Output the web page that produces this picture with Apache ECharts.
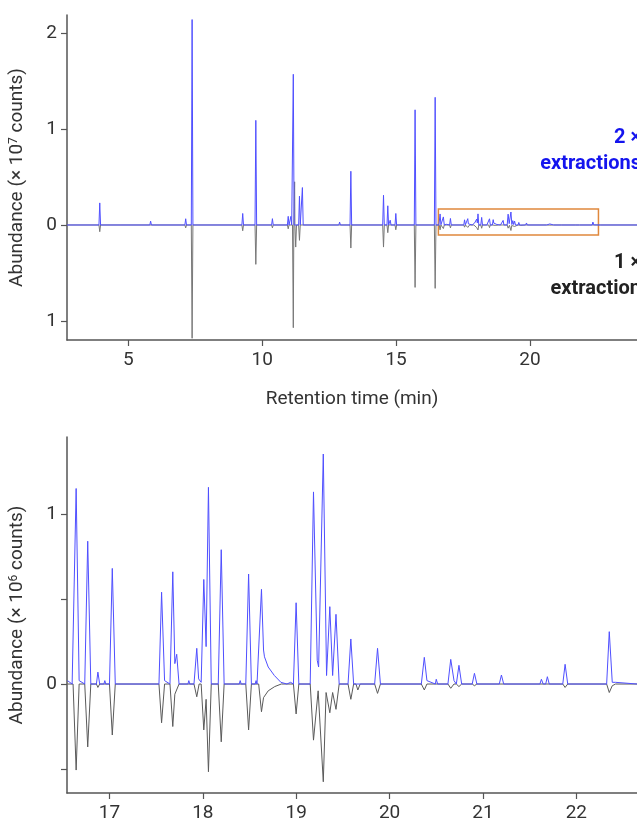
<!DOCTYPE html>
<html>
<head>
<meta charset="utf-8">
<script src="https://cdn.jsdelivr.net/npm/echarts@6/dist/echarts.min.js"></script>
<style>
html,body{margin:0;padding:0;background:#fff;}
#chart{width:637px;height:823px;}
</style>
</head>
<body>
<div id="chart"></div>
<script>
// ---------- DATA ----------
// Top panel: retention time (min), abundance (x 10^7 counts), for peaks before the inset window
const topBluePeaks = [
  [3.93,0.23],[4.75,0.02],[5.83,0.04],[7.14,0.065],[7.38,2.14],[9.27,0.12],[9.76,1.09],
  [10.38,0.066],[10.97,0.09],[11.07,0.09],[11.16,1.57],[11.39,0.30],[11.50,0.39],
  [12.89,0.03],[13.31,0.56],[14.53,0.31],[14.69,0.20],[14.78,0.05],[14.99,0.12],
  [15.71,1.20],[16.46,1.33]
];
const topGrayPeaks = [
  [3.93,-0.07],[7.14,-0.03],[7.38,-1.18],[9.27,-0.06],[9.76,-0.41],[10.38,-0.03],
  [10.97,-0.04],[11.16,-1.07],[11.21,0.45],[11.25,-0.23],[11.39,-0.16],[12.89,-0.02],
  [13.31,-0.24],[14.53,-0.23],[14.69,-0.08],[14.99,-0.05],[15.71,-0.65],[16.46,-0.66]
];
// Bottom panel (inset window): retention time (min), abundance (x 10^6 counts)
const insetBlue = [
  [16.55,0.02],[16.60,0.0],[16.61,0.01],[16.643,1.15],[16.675,0.02],[16.735,0.0],[16.767,0.84],[16.80,0.0],
  [16.86,0.0],[16.876,0.07],[16.895,0.0],[16.94,0],[16.95,0.02],[16.96,0],[17.0,0],[17.03,0.68],[17.062,0],
  [17.53,0],[17.558,0.54],[17.59,0.02],[17.648,0],[17.678,0.66],[17.70,0.12],[17.72,0.175],[17.745,0.0],
  [17.84,0],[17.85,0.02],[17.86,0],[17.905,0],[17.935,0.21],[17.955,0.03],[17.982,0.01],[18.01,0.615],
  [18.035,0.22],[18.06,1.157],[18.09,0.0],[18.165,0],[18.197,0.79],[18.228,0],[18.39,0],[18.40,0.02],
  [18.41,0],[18.46,0],[18.49,0.647],[18.52,0],[18.56,0],[18.57,0.02],[18.58,0],[18.598,0],[18.628,0.557],
  [18.65,0.2],[18.66,0.16],[18.70,0.10],[18.766,0.05],[18.836,0.01],[18.9,0],[18.94,0.01],[18.97,0],
  [18.999,0.478],[19.028,0],[19.15,0],[19.185,1.13],[19.225,0.14],[19.24,0.10],[19.29,1.353],[19.325,0.05],
  [19.36,0.455],[19.39,0.05],[19.426,0.41],[19.46,0],[19.555,0],[19.585,0.265],[19.615,0],[19.84,0],
  [19.871,0.21],[19.902,0],[20.34,0],[20.372,0.157],[20.4,0.02],[20.49,0],[20.50,0.028],[20.515,0],
  [20.625,0],[20.655,0.145],[20.69,0.02],[20.715,0],[20.743,0.11],[20.772,0],[20.885,0],[20.909,0.063],
  [20.935,0],[21.175,0],[21.198,0.053],[21.222,0],[21.61,0],[21.626,0.028],[21.645,0],[21.672,0],
  [21.69,0.043],[21.71,0],[21.855,0],[21.88,0.116],[21.908,0],[22.325,0],[22.353,0.308],[22.385,0.01],
  [22.42,0.01],[22.44,0],[22.65,0]
];
const insetGray = [
  [16.55,0],[16.61,0],[16.643,-0.506],[16.675,0],[16.735,0],[16.767,-0.37],[16.80,0],[16.86,0],
  [16.876,-0.02],[16.895,0],[17.0,0],[17.03,-0.30],[17.062,0],[17.53,0],[17.558,-0.228],[17.59,0],
  [17.648,0],[17.678,-0.25],[17.70,-0.06],[17.72,-0.05],[17.745,0],[17.905,0],[17.935,-0.075],[17.96,0],
  [17.982,0],[18.01,-0.27],[18.035,-0.09],[18.06,-0.516],[18.09,0],[18.165,0],[18.197,-0.34],[18.228,0],
  [18.46,0],[18.49,-0.27],[18.52,0],[18.598,0],[18.628,-0.163],[18.65,-0.08],[18.70,-0.04],[18.77,-0.015],
  [18.84,0],[18.97,0],[18.999,-0.176],[19.028,0],[19.15,0],[19.185,-0.33],[19.235,-0.04],[19.29,-0.575],
  [19.32,-0.05],[19.36,-0.169],[19.39,-0.05],[19.426,-0.149],[19.46,0],[19.555,0],[19.585,-0.09],[19.615,0],
  [19.64,0],[19.66,-0.035],[19.685,0],[19.84,0],[19.871,-0.055],[19.902,0],[20.34,0],[20.372,-0.035],[20.4,0],
  [20.625,0],[20.655,-0.025],[20.69,0],[20.715,0],[20.743,-0.015],[20.772,0],[20.885,0],[20.909,-0.01],[20.935,0],
  [21.855,0],[21.88,-0.02],[21.908,0],[22.325,0],[22.353,-0.05],[22.385,-0.01],[22.42,0],[22.65,0]
];
const topXTicks = [5,10,15,20];
const topYTicks = [-1,0,1,2];
const bottomXTicks = [17,18,19,20,21,22];
const bottomYTicks = [-0.5,0,0.5,1];
const bottomYLabels = [0,1];
const insetWindow = [16.58,22.56];   // retention-time span of the boxed region
const insetBoxY = [-0.104,0.167];    // abundance span of the box (x 10^7)
const unitRatio = 10;                // 10^7 / 10^6

// ---------- BUILD ----------
const topRange = [2.706, 24];
const botRange = [16.545, 22.65];
function spikes(list, w) {
  const pts = [];
  list.forEach(([t, h]) => { pts.push([t - w, 0], [t, h], [t + w, 0]); });
  pts.sort((a, b) => a[0] - b[0]);
  return pts;
}
const topBlue = [[topRange[0], 0]].concat(spikes(topBluePeaks, 0.03),
  insetBlue.map(([t, v]) => [t, v / unitRatio]), [[topRange[1], 0]]);
const topGray = [[topRange[0], 0]].concat(spikes(topGrayPeaks, 0.03),
  insetGray.map(([t, v]) => [t, v / unitRatio]), [[topRange[1], 0]]);

const FONT = 'Roboto';
const TXT = '#333';
const AX = '#555';
const BLUE = '#4f4fff';
const GRAY = '#5a5a5a';

function xAxisCfg(idx, range, ticks, name) {
  return {
    type: 'value', gridIndex: idx, min: range[0], max: range[1],
    axisLine: { onZero: false, lineStyle: { color: AX, width: 1.5 } },
    axisTick: { customValues: ticks, length: 6, lineStyle: { color: AX, width: 1.2 } },
    axisLabel: { customValues: ticks, color: TXT, fontSize: 19, fontFamily: FONT, margin: 11 },
    splitLine: { show: false },
    name: name, nameLocation: 'middle', nameGap: 50,
    nameTextStyle: { color: TXT, fontSize: 19, fontFamily: FONT }
  };
}
function yAxisCfg(idx, range, ticks, labels, exp) {
  return {
    type: 'value', gridIndex: idx, min: range[0], max: range[1],
    axisLine: { show: true, onZero: false, lineStyle: { color: AX, width: 1.5 } },
    axisTick: { show: true, customValues: ticks, length: 6, lineStyle: { color: AX, width: 1.2 } },
    axisLabel: { customValues: labels, color: TXT, fontSize: 19, fontFamily: FONT, margin: 10,
      formatter: v => String(Math.abs(v)) },
    splitLine: { show: false },
    name: 'Abundance (× 10{sup|' + exp + '} counts)',
    nameLocation: 'middle', nameGap: 40,
    nameTextStyle: { color: TXT, fontSize: 19, fontFamily: FONT,
      rich: { sup: { fontSize: 12, fontFamily: FONT, color: TXT, verticalAlign: 'top', lineHeight: 19 } } }
  };
}

const chart = echarts.init(document.getElementById('chart'), null, { renderer: 'canvas' });
chart.setOption({
  animation: false,
  backgroundColor: '#fff',
  grid: [
    { left: 67, top: 15, width: 584.9, height: 325 },
    { left: 67, top: 437, width: 576.3, height: 356 }
  ],
  xAxis: [
    xAxisCfg(0, topRange, topXTicks, 'Retention time (min)'),
    xAxisCfg(1, botRange, bottomXTicks, '')
  ],
  yAxis: [
    yAxisCfg(0, [-1.198, 2.1875], topYTicks, topYTicks, '7'),
    yAxisCfg(1, [-0.641, 1.453], bottomYTicks, bottomYLabels, '6')
  ],
  series: [
    { type: 'line', xAxisIndex: 0, yAxisIndex: 0, data: topGray, showSymbol: false,
      lineStyle: { color: '#777', width: 1 }, z: 2 },
    { type: 'line', xAxisIndex: 0, yAxisIndex: 0, data: topBlue, showSymbol: false,
      lineStyle: { color: BLUE, width: 1 }, z: 3,
      markArea: { silent: true,
        itemStyle: { color: 'rgba(0,0,0,0)', borderColor: '#e0883c', borderWidth: 1.5 },
        data: [[{ coord: [insetWindow[0], insetBoxY[1]] }, { coord: [insetWindow[1], insetBoxY[0]] }]] } },
    { type: 'line', xAxisIndex: 1, yAxisIndex: 1, data: insetGray, showSymbol: false,
      lineStyle: { color: GRAY, width: 1 }, z: 2 },
    { type: 'line', xAxisIndex: 1, yAxisIndex: 1, data: insetBlue, showSymbol: false,
      lineStyle: { color: BLUE, width: 1 }, z: 3 }
  ],
  graphic: [
    { type: 'text', x: 641, y: 138, style: { text: '2 ×', textAlign: 'right', textVerticalAlign: 'middle',
      font: 'bold 20px Roboto', fill: '#1414ee' } },
    { type: 'text', x: 641, y: 164, style: { text: 'extractions', textAlign: 'right', textVerticalAlign: 'middle',
      font: 'bold 20px Roboto', fill: '#1414ee' } },
    { type: 'text', x: 641, y: 263, style: { text: '1 ×', textAlign: 'right', textVerticalAlign: 'middle',
      font: 'bold 20px Roboto', fill: '#222' } },
    { type: 'text', x: 641, y: 289, style: { text: 'extraction', textAlign: 'right', textVerticalAlign: 'middle',
      font: 'bold 20px Roboto', fill: '#222' } }
  ]
});
</script>
</body>
</html>
